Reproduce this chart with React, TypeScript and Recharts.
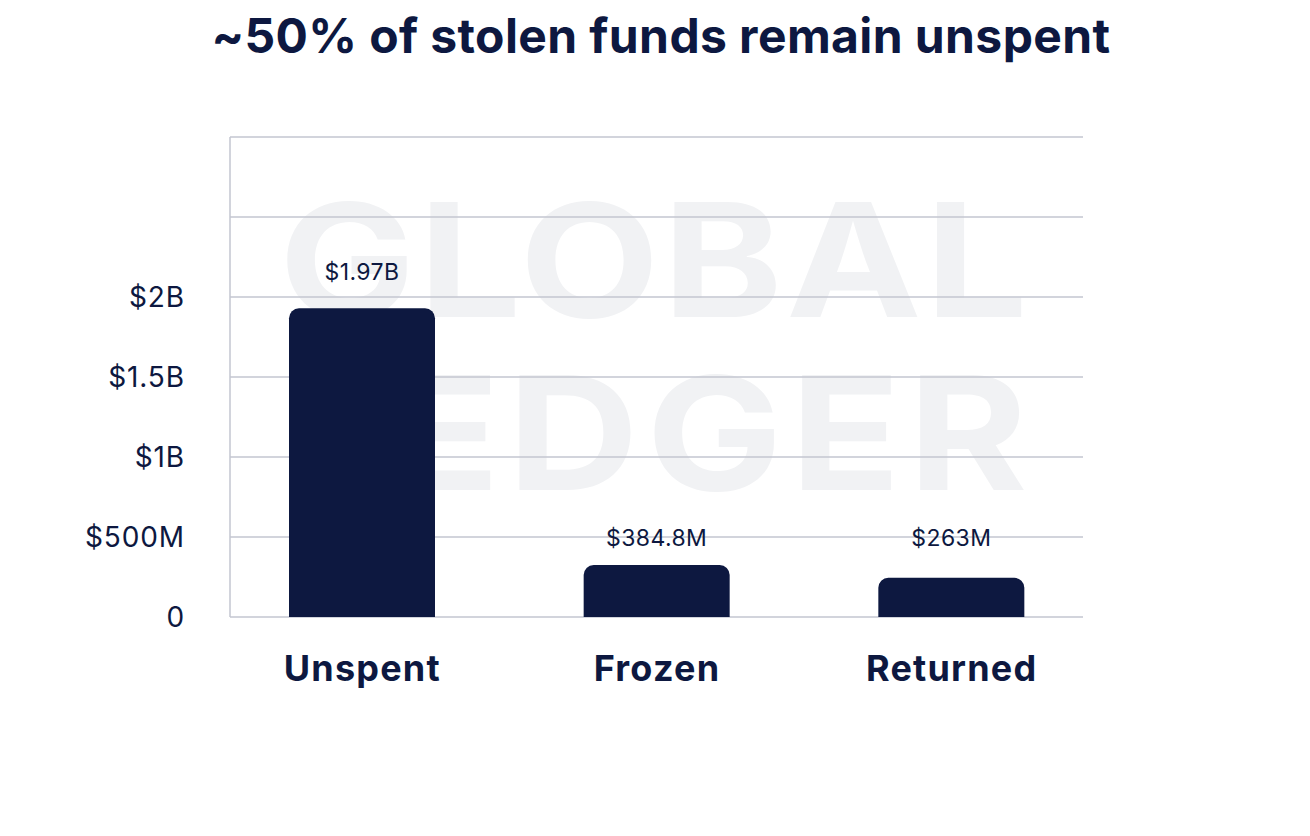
import { BarChart, Bar, XAxis, YAxis, CartesianGrid, LabelList } from 'recharts';

const categories = ['Unspent', 'Frozen', 'Returned'];
const amounts = [1.93, 0.325, 0.245]; // $B, bar heights as drawn
const valueLabels = ['$1.97B', '$384.8M', '$263M'];
const labelLift = [27, 18, 31]; // gap between bar top and its label, px
const yTicks = [0, 0.5, 1, 1.5, 2, 2.5, 3];
const yTickLabels: Record<number, string> = { 0: '0', 0.5: '$500M', 1: '$1B', 1.5: '$1.5B', 2: '$2B' };

const data = categories.map((name, i) => ({ name, value: amounts[i], label: valueLabels[i] }));

const NAVY = '#0d1840';
const GRID = '#c3c6d1';
const FONT = 'Inter, "Noto Sans", sans-serif';

const ValueLabel = (props: any) => {
  const { x, y, width, index, value } = props;
  return (
    <text
      x={x + width / 2}
      y={y - labelLift[index] - 1}
      textAnchor="middle"
      fill={NAVY}
      fontSize={23}
      fontFamily={FONT}
      letterSpacing={0.4}
    >
      {value}
    </text>
  );
};

const App = () => {
  return (
    <div style={{ position: 'absolute', left: 0, top: 0, width: 1310, height: 836, background: '#fff', fontFamily: FONT }}>
      <div
        style={{
          position: 'absolute',
          top: 6,
          left: 6,
          width: 1310,
          textAlign: 'center',
          fontSize: 48,
          fontWeight: 700,
          color: NAVY,
          letterSpacing: 0.4,
        }}
      >
        ~50% of stolen funds remain unspent
      </div>

      {/* watermark */}
      <svg width={1310} height={836} style={{ position: 'absolute', left: 0, top: 0 }}>
        <g fill="#f1f2f4" fontFamily={FONT} fontWeight={700} fontSize={158}>
          <text transform="translate(279,317) scale(1.15,1)" textLength={651} lengthAdjust="spacing">GLOBAL</text>
          <text transform="translate(279,490) scale(1.15,1)" textLength={651} lengthAdjust="spacing">LEDGER</text>
        </g>
      </svg>

      <div style={{ position: 'absolute', left: 0, top: 0 }}>
        <BarChart width={1310} height={836} data={data} margin={{ top: 137, right: 227, bottom: 139, left: 0 }}>
          <CartesianGrid yAxisId="left" vertical={false} stroke={GRID} strokeWidth={1.5} />
          <XAxis
            dataKey="name"
            axisLine={false}
            tickLine={false}
            tickSize={0}
            tickMargin={38}
            height={80}
            padding={{ left: -15, right: -16 }}
            tick={{ fill: NAVY, fontSize: 36, fontWeight: 700, fontFamily: FONT, letterSpacing: 1.2 }}
          />
          <YAxis
            yAxisId="left"
            domain={[0, 3]}
            ticks={yTicks}
            interval={0}
            width={230}
            axisLine={{ stroke: GRID, strokeWidth: 1.5 }}
            tickLine={false}
            tickSize={0}
            tickMargin={45}
            tickFormatter={(v: number) => yTickLabels[v] ?? ''}
            tick={{ fill: NAVY, fontSize: 28, fontFamily: FONT, letterSpacing: 0.9 }}
          />
          <YAxis
            yAxisId="right"
            orientation="right"
            domain={[0, 3]}
            width={0}
            tick={false}
            tickLine={false}
            axisLine={{ stroke: GRID, strokeWidth: 1.5 }}
          />
          <Bar yAxisId="left" dataKey="value" fill={NAVY} barSize={146} radius={[10, 10, 0, 0]} isAnimationActive={false}>
            <LabelList dataKey="label" content={<ValueLabel />} />
          </Bar>
        </BarChart>
      </div>
    </div>
  );
};

export default App;
